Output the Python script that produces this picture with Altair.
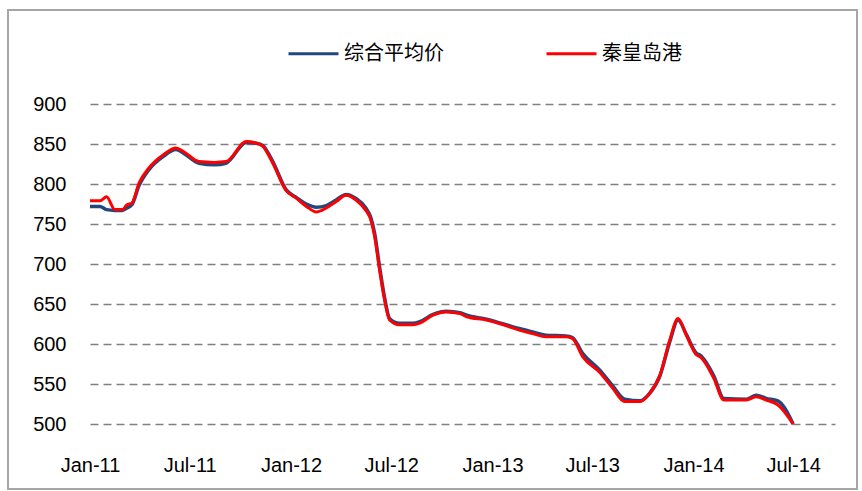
import altair as alt
import pandas as pd

dates = [
    "2011-01-01", "2011-01-19", "2011-01-31", "2011-02-15", "2011-03-01", "2011-03-09",
    "2011-03-18", "2011-03-31", "2011-04-18", "2011-05-15", "2011-06-06", "2011-06-21",
    "2011-07-18", "2011-08-15", "2011-09-05", "2011-10-12", "2011-10-30", "2011-11-11",
    "2011-11-29", "2011-12-23", "2012-01-11", "2012-01-29", "2012-02-16", "2012-03-05",
    "2012-03-23", "2012-04-10", "2012-04-28", "2012-05-16", "2012-05-25", "2012-06-01",
    "2012-06-10", "2012-06-19", "2012-06-28", "2012-07-16", "2012-08-09", "2012-08-22",
    "2012-09-15", "2012-10-09", "2012-11-03", "2012-11-15", "2012-12-21", "2013-01-21",
    "2013-02-20", "2013-03-15", "2013-04-08", "2013-05-14", "2013-05-26", "2013-06-14",
    "2013-07-14", "2013-08-07", "2013-08-29", "2013-09-26", "2013-10-13", "2013-11-01",
    "2013-11-19", "2013-12-04", "2013-12-19", "2014-01-07", "2014-01-13", "2014-02-07",
    "2014-02-25", "2014-04-07", "2014-04-25", "2014-05-13", "2014-06-03", "2014-07-01",
]

avg_price = [
    772, 772, 768, 767, 767, 770,
    774, 798, 818, 835, 843, 838,
    826, 824, 826, 852, 851, 848,
    828, 793, 783, 775, 771, 773,
    780, 787, 782, 770, 758, 738,
    696, 658, 632, 626, 626, 628,
    637, 641, 639, 636, 631, 625,
    619, 615, 611, 610, 608, 588,
    568, 548, 531, 529, 538, 560,
    603, 630, 612, 588, 586, 560,
    532, 531, 536, 532, 529, 500,
]

qhd_price = [
    779, 779, 784, 768, 768, 774,
    776, 801, 820, 837, 845, 840,
    828, 827, 828, 853, 851, 847,
    826, 792, 782, 772, 765, 770,
    778, 786, 780, 767, 755, 734,
    692, 655, 630, 624, 624, 626,
    636, 640, 638, 634, 630, 624,
    617, 613, 609, 609, 607, 584,
    565, 545, 528, 528, 538, 561,
    605, 632, 611, 586, 584, 557,
    530, 530, 534, 530, 524, 500,
]

series_names = ["综合平均价", "秦皇岛港"]
series_colors = ["#24467f", "#ff0000"]
y_ticks = [500, 550, 600, 650, 700, 750, 800, 850, 900]
x_tick_months = [(2011, 1), (2011, 7), (2012, 1), (2012, 7), (2013, 1), (2013, 7), (2014, 1), (2014, 7)]

df = pd.DataFrame({
    "date": dates * 2,
    "value": avg_price + qhd_price,
    "series": [series_names[0]] * len(dates) + [series_names[1]] * len(dates),
})

x_enc = alt.X(
    "date:T",
    scale=alt.Scale(
        type="utc",
        domain=[alt.DateTime(year=2011, month=1, date=1, utc=True),
                alt.DateTime(year=2014, month=9, date=15, utc=True)],
    ),
    axis=alt.Axis(
        values=[alt.DateTime(year=y, month=m, date=1, utc=True) for y, m in x_tick_months],
        format="%b-%y",
        title=None,
        grid=False,
        ticks=False,
        domain=False,
        labelFlush=False,
        labelPadding=31,
        labelFont="Liberation Sans",
        labelFontSize=20,
        labelColor="#000000",
        labelOverlap=False,
    ),
)

y_enc = alt.Y(
    "value:Q",
    scale=alt.Scale(domain=[500, 900], nice=False, zero=False),
    axis=alt.Axis(
        values=y_ticks,
        title=None,
        grid=True,
        gridDash=[8, 5],
        gridColor="#808080",
        gridWidth=1.6,
        ticks=False,
        domain=False,
        labelPadding=24,
        labelFont="Liberation Sans",
        labelFontSize=20,
        labelColor="#000000",
    ),
)

color_enc = alt.Color(
    "series:N",
    scale=alt.Scale(domain=series_names, range=series_colors),
    legend=alt.Legend(
        title=None,
        orient="none",
        legendX=197,
        legendY=-77,
        direction="horizontal",
        symbolType="stroke",
        symbolSize=2500,
        symbolStrokeWidth=3,
        labelFont="Noto Sans CJK SC",
        labelFontSize=20,
        labelColor="#000000",
        labelOffset=4,
        columnPadding=96,
    ),
)

base = alt.Chart(df)

blue = base.transform_filter(alt.datum.series == series_names[0]).mark_line(
    strokeWidth=3.5, interpolate="monotone"
).encode(x=x_enc, y=y_enc, color=color_enc)

red = base.transform_filter(alt.datum.series == series_names[1]).mark_line(
    strokeWidth=3, interpolate="monotone"
).encode(x=x_enc, y=y_enc, color=color_enc)

frame = alt.Chart(pd.DataFrame({"a": [0]})).mark_rect(
    fillOpacity=0, stroke="#a6a6a6", strokeWidth=2, clip=False
).encode(
    x=alt.value(-82), x2=alt.value(767), y=alt.value(-94), y2=alt.value(385)
)

chart = alt.layer(frame, blue, red).properties(
    width=745,
    height=320,
    autosize=alt.AutoSizeParams(type="none"),
    padding={"left": 90, "top": 104, "right": 27, "bottom": 67},
    background="#ffffff",
).configure_view(stroke=None)

chart.save("out.html", embed_options={"renderer": "svg", "actions": False})
